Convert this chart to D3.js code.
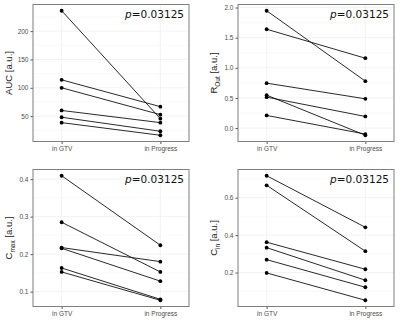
<!DOCTYPE html>
<meta charset="utf-8">
<head>
	<title>paired plots</title>
</head>

<style>
body { margin: 0; background: #fff; }
svg { display: block; }
.tick text { font-family: "Liberation Sans", Arial, sans-serif; font-size: 6.5px; fill: #4d4d4d; }
.tick line { stroke: #555; }
.ylab { font-family: "Liberation Sans", Arial, sans-serif; font-size: 9.5px; fill: #222; }
.pval { font-family: "DejaVu Sans", sans-serif; font-size: 10.5px; fill: #111; }
</style>

<body>
<svg width="400" height="330"></svg>

<script src="https://cdnjs.cloudflare.com/ajax/libs/d3/7.8.5/d3.min.js"></script>
<script>

var groups = ["in GTV", "in Progress"];

// AUC
var aucGTV  = [236, 114, 100, 60, 48, 38.5];
var aucProg = [45.5, 66.7, 52.6, 38.5, 23.3, 16.2];
var aucTicks = [50, 100, 150, 200];

// R_out
var routGTV  = [1.947, 1.64, 0.745, 0.546, 0.513, 0.209];
var routProg = [0.778, 1.159, 0.485, -0.12, 0.192, -0.10];
var routTicks = [0, 0.5, 1, 1.5, 2];

// C_max
var cmaxGTV  = [0.409, 0.285, 0.2175, 0.2155, 0.163, 0.1525];
var cmaxProg = [0.2237, 0.1525, 0.180, 0.128, 0.0795, 0.077];
var cmaxTicks = [0.1, 0.2, 0.3, 0.4];

// C_in
var cinGTV  = [0.717, 0.666, 0.362, 0.333, 0.269, 0.198];
var cinProg = [0.4415, 0.314, 0.2176, 0.159, 0.1216, 0.052];
var cinTicks = [0.2, 0.4, 0.6];

var pText = "0.03125";

var panels = [
	{gtv: aucGTV, prog: aucProg, ticks: aucTicks, fmt: d3.format("d"), lab: "AUC", sub: "", x0: 33, y0: 4.5},
	{gtv: routGTV, prog: routProg, ticks: routTicks, fmt: d3.format(".1f"), lab: "R", sub: "Out", x0: 238, y0: 4.5},
	{gtv: cmaxGTV, prog: cmaxProg, ticks: cmaxTicks, fmt: d3.format(".1f"), lab: "C", sub: "max", x0: 33, y0: 169.5},
	{gtv: cinGTV, prog: cinProg, ticks: cinTicks, fmt: d3.format(".1f"), lab: "C", sub: "in", x0: 238, y0: 169.5}
];

var pw = 156, ph = 137;
var svg = d3.select("svg");

panels.forEach(function(p){
	var g = svg.append("g").attr("transform", "translate(" + p.x0 + "," + p.y0 + ")");

	var all = p.gtv.concat(p.prog);
	var lo = d3.min(all), hi = d3.max(all), pad = (hi - lo) * 0.05;

	var x = d3.scalePoint().domain(groups).range([0, pw]).padding(0.29);
	var y = d3.scaleLinear().domain([lo - pad, hi + pad]).range([ph, 0]);

	// faint grid
	var minor = [];
	for (var i = 0; i < p.ticks.length - 1; i++) minor.push((p.ticks[i] + p.ticks[i+1]) / 2);
	minor.unshift(p.ticks[0] - (p.ticks[1] - p.ticks[0]) / 2);
	minor.push(p.ticks[p.ticks.length-1] + (p.ticks[1] - p.ticks[0]) / 2);
	g.selectAll(".gmin").data(minor.filter(function(v){ return v > lo - pad && v < hi + pad; }))
		.enter().append("line")
		.attr("x1", 0).attr("x2", pw)
		.attr("y1", function(d){ return y(d); }).attr("y2", function(d){ return y(d); })
		.attr("stroke", "#f4f4f4").attr("stroke-width", 0.5);
	g.selectAll(".gmaj").data(p.ticks).enter().append("line")
		.attr("x1", 0).attr("x2", pw)
		.attr("y1", function(d){ return y(d); }).attr("y2", function(d){ return y(d); })
		.attr("stroke", "#efefef").attr("stroke-width", 0.8);
	g.selectAll(".gx").data(groups).enter().append("line")
		.attr("x1", function(d){ return x(d); }).attr("x2", function(d){ return x(d); })
		.attr("y1", 0).attr("y2", ph)
		.attr("stroke", "#efefef").attr("stroke-width", 0.8);

	// paired lines
	var pairs = p.gtv.map(function(v, i){ return [v, p.prog[i]]; });
	var line = d3.line()
		.x(function(d, i){ return x(groups[i]); })
		.y(function(d){ return y(d); });
	g.selectAll(".pair").data(pairs).enter().append("path")
		.attr("d", line)
		.attr("fill", "none").attr("stroke", "#111").attr("stroke-width", 0.9);

	g.selectAll(".ptG").data(p.gtv).enter().append("circle")
		.attr("cx", x(groups[0])).attr("cy", function(d){ return y(d); })
		.attr("r", 1.9).attr("fill", "#000");
	g.selectAll(".ptP").data(p.prog).enter().append("circle")
		.attr("cx", x(groups[1])).attr("cy", function(d){ return y(d); })
		.attr("r", 1.9).attr("fill", "#000");

	// axes
	g.append("g").attr("transform", "translate(0," + ph + ")")
		.call(d3.axisBottom(x).tickSize(2.5).tickPadding(2))
		.call(function(a){ a.select(".domain").remove(); });
	g.append("g")
		.call(d3.axisLeft(y).tickValues(p.ticks).tickFormat(p.fmt).tickSize(2.5).tickPadding(2))
		.call(function(a){ a.select(".domain").remove(); });

	g.append("rect").attr("width", pw).attr("height", ph)
		.attr("fill", "none").attr("stroke", "#7f7f7f").attr("stroke-width", 1);

	// y label
	var t = g.append("text").attr("class", "ylab")
		.attr("transform", "translate(-21," + (ph / 2) + ") rotate(-90)")
		.attr("text-anchor", "middle");
	t.append("tspan").text(p.lab);
	if (p.sub) {
		t.append("tspan").attr("font-size", "6.5px").attr("dy", 2.5).text(p.sub);
		t.append("tspan").attr("dy", -2.5).text("\u00a0[a.u.]");
	} else {
		t.append("tspan").text(" [a.u.]");
	}

	// p value
	var pv = g.append("text").attr("class", "pval")
		.attr("x", pw - 5).attr("y", 13).attr("text-anchor", "end");
	pv.append("tspan").attr("font-style", "italic").text("p");
	pv.append("tspan").text("=" + pText);
});

</script>
</body>
</html>
